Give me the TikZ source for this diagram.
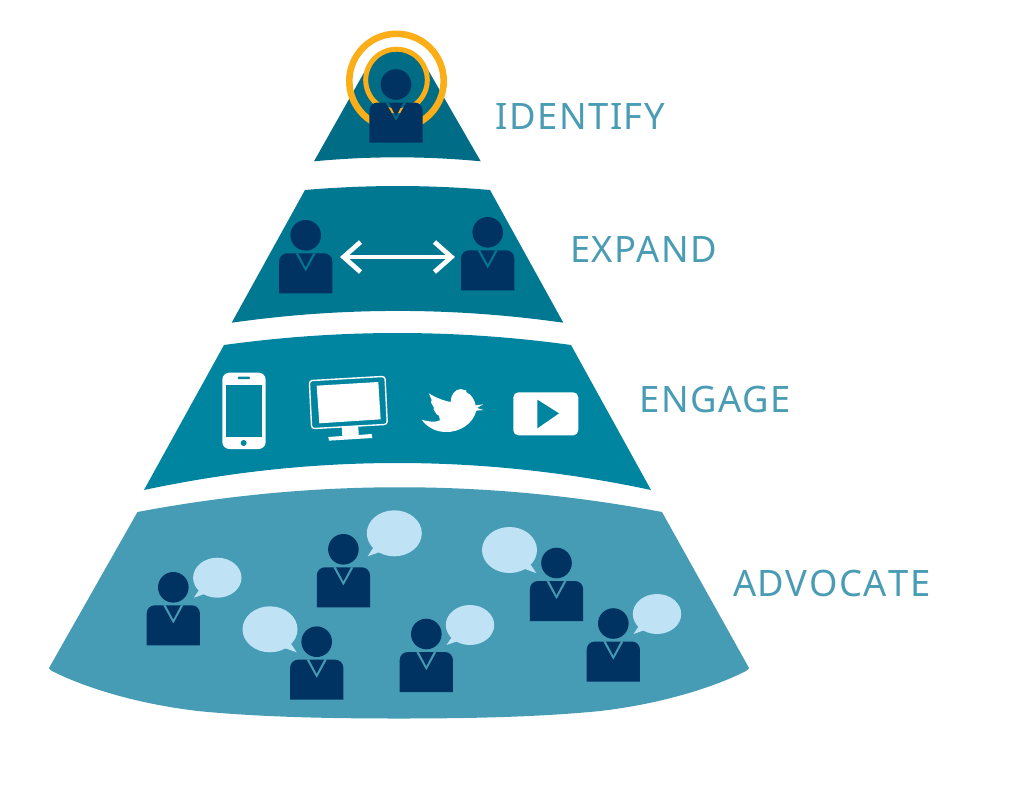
\documentclass[tikz,border=0pt]{standalone}
\usepackage{fontspec}
\setmainfont[LetterSpace=4]{Noto Sans}
\usetikzlibrary{arrows.meta}
\definecolor{cIdent}{HTML}{006C85}
\definecolor{cExpand}{HTML}{007892}
\definecolor{cEngage}{HTML}{0085A1}
\definecolor{cAdv}{HTML}{469CB5}
\definecolor{cNavy}{HTML}{003361}
\definecolor{cBubble}{HTML}{BFE3F5}
\definecolor{cRing}{HTML}{FBAE17}
\definecolor{cLabel}{HTML}{4A9CB5}
\tikzset{
  ringouter/.style={draw=cRing,line width=6.6pt},
  ringinner/.style={draw=cRing,line width=5pt},
  lbl/.style={text=cLabel,font=\fontsize{36.4}{36}\selectfont,anchor=base west,inner sep=0pt},
  wh/.style={fill=white},
  dblarrow/.style={draw=white,line width=4.7pt,{Straight Barb[length=17pt,width=30pt]}-{Straight Barb[length=17pt,width=30pt]}}
}
% #1 head x, #2 head y
\newcommand{\personicon}[2]{%
  \begin{scope}[shift={(#1,#2)}]
    \fill[cNavy] (0,0) circle[radius=15.3];
    \fill[cNavy,even odd rule]
      (-26.6,58) -- (-26.6,26) .. controls (-26.6,21.6) and (-23,18) .. (-18.6,18) -- (18.6,18)
      .. controls (23,18) and (26.6,21.6) .. (26.6,26) -- (26.6,58) -- cycle
      (-10.2,18) -- (0,36.4) -- (10.2,18) -- (7.4,18) -- (0,32) -- (-7.4,18) -- cycle;
  \end{scope}}
% #1 cx, #2 cy, #3 rx, #4 ry, #5 xscale sign for tail side
\newcommand{\bubbleicon}[5]{%
  \begin{scope}[shift={(#1,#2)}]
    \fill[cBubble] (0,0) ellipse[x radius=#3,y radius=#4];
    \fill[cBubble,xscale=#5] (-#3*0.72,#4*0.55) -- (-#3*0.97,#4*1.0) -- (-#3*0.5,#4*0.8) -- cycle;
  \end{scope}}
\begin{document}
\begin{tikzpicture}[x=1pt,y=-1pt]
\useasboundingbox (0,0) rectangle (1030,785);
% tiers
\fill[cIdent] (314,161.3) -- (372.8,57) -- (420.6,57) -- (480.7,161.3)
  .. controls (425,156) and (370,156) .. cycle;
\fill[cIdent] (396.5,81) circle[radius=31];
\fill[cExpand] (305,190) .. controls (367,184.7) and (428,184.7) .. (490,190)
  -- (563.3,322.7) .. controls (453,307) and (342,307) .. (231.7,322.7) -- cycle;
\fill[cEngage] (224,345) .. controls (340,329) and (455,329) .. (571,345)
  -- (651,490) .. controls (482,454) and (313,454) .. (144,490) -- cycle;
\fill[cAdv] (137.5,512) .. controls (312,479) and (487,479) .. (662,512)
  -- (749,668) .. controls (748.5,669.5) and (747,670.5) .. (745,671.5)
  .. controls (712,688) and (660,704) .. (600,711)
  .. controls (540,717) and (470,718.5) .. (399,718.5)
  .. controls (328,718.5) and (258,717) .. (198,711)
  .. controls (138,704) and (86,688) .. (53,671.5)
  .. controls (51,670.5) and (49.5,669.5) .. (49,668) -- cycle;
% rings
\draw[ringouter] (396.5,81) circle[radius=47.2];
\draw[ringinner] (396.5,80) circle[radius=30.8];
% persons
\personicon{396}{84.5}
\personicon{305.7}{235.3}
\personicon{487.7}{232.3}
\personicon{173.3}{587.3}
\personicon{343.4}{549.3}
\personicon{316.7}{641.7}
\personicon{426.3}{634}
\personicon{556.5}{563}
\personicon{613.3}{623.5}
% bubbles
\bubbleicon{217.3}{577.7}{24.2}{20}{1}
\bubbleicon{394.3}{533.3}{27.5}{23}{1}
\bubbleicon{270}{629.3}{27.5}{23}{-1}
\bubbleicon{470}{625}{24.2}{20}{1}
\bubbleicon{509.5}{550}{27.5}{23}{-1}
\bubbleicon{657}{614}{24.2}{20}{1}
% arrow
\coordinate (arrL) at (340,257);
\coordinate (arrR) at (455,257);
\draw[dblarrow] (arrL) -- (arrR);
% phone
\begin{scope}[shift={(210,360)},x=0.3333pt,y=-0.3333pt]
  \fill[wh,rounded corners=7pt] (37,38) rectangle (167,267);
  \fill[cEngage] (47,75) rectangle (157,232);
  \fill[cEngage,rounded corners=1pt] (83,50) rectangle (120,57);
  \fill[cEngage] (101,249) circle[radius=9];
  % monitor
  \draw[white,line width=1.4pt,rounded corners=3pt] (298,62) -- (525,49) -- (532,193) -- (305,206) -- cycle;
  \fill[wh] (320,77) -- (505,66) -- (512,178) -- (328,190) -- cycle;
  \fill[wh] (395,200) -- (445,197) -- (446,225) -- (485,222) -- (487,234) -- (357,242) -- (355,231) -- (397,228) -- cycle;
  % bird
  \fill[wh] (635,179) .. controls (655,185) and (675,188) .. (690,181)
    -- (687,167) -- (680,163) -- (670,147) -- (673,145) -- (663,127) -- (665,120)
    -- (657,100)
    .. controls (675,112) and (700,122) .. (722,126)
    .. controls (722,105) and (735,88) .. (752,87)
    -- (770,92) -- (768,96) .. controls (785,103) and (795,122) .. (797,136)
    -- (820,133) -- (801,144) -- (821,150) -- (799,152)
    .. controls (790,190) and (750,218) .. (705,216)
    .. controls (675,215) and (650,200) .. (635,179) -- cycle;
  % play
  \fill[wh,rounded corners=5pt] (910,97) rectangle (1105,226);
  \fill[cEngage] (982,119) -- (1047,160) -- (982,205) -- cycle;
\end{scope}
% labels
\node[lbl] (lblI) at (495.5,129.3) {IDENTIFY};
\node[lbl] (lblX) at (570,262.3) {EXPAND};
\node[lbl] (lblE) at (639.5,412.7) {ENGAGE};
\node[lbl] (lblA) at (733,596.7) {\addfontfeature{Kerning=Off}ADVOCATE};
\end{tikzpicture}
\end{document}
